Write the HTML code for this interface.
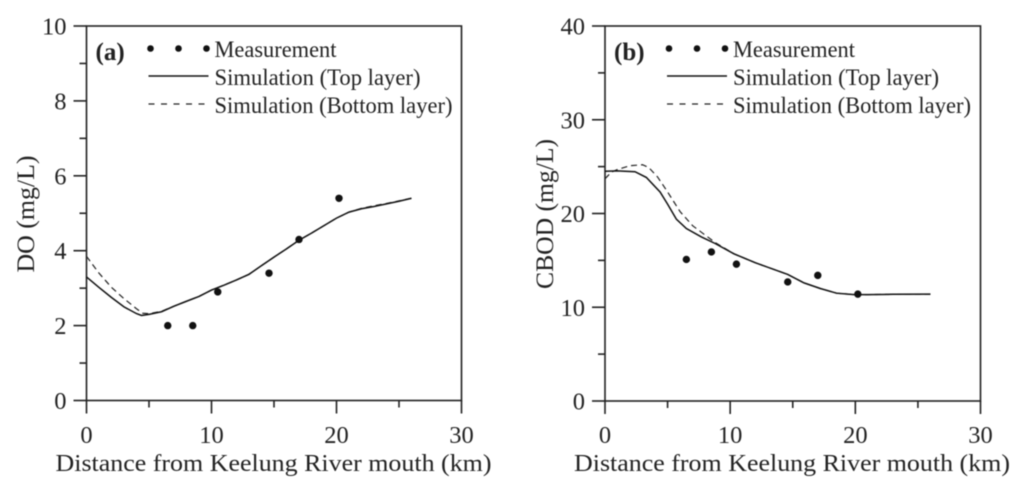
<!DOCTYPE html>
<html>
<head>
<meta charset="utf-8">
<title>DO and CBOD along Keelung River</title>
<style>
html,body{margin:0;padding:0;background:#fff;width:1024px;height:486px;overflow:hidden}
svg{display:block;filter:blur(0.45px)}
text{font-family:"Liberation Serif",serif;fill:#222}
</style>
</head>
<body>
<svg id="chart" width="1024" height="486" viewBox="0 0 1024 486" xmlns="http://www.w3.org/2000/svg"></svg>
<script>
const xTickLabels = [0, 10, 20, 30];
const xMinorTicks = [5, 15, 25];

const doTickLabels = [0, 2, 4, 6, 8, 10];
const doMinorTicks = [1, 3, 5, 7, 9];
const doTopX = [0, 1, 2, 3, 4, 4.4, 5, 6, 7, 8, 9, 10, 11, 12, 13, 14, 15, 16, 17, 18, 19, 20, 21, 22, 23, 24, 25, 26];
const doTopY = [3.3, 3.02, 2.75, 2.5, 2.32, 2.27, 2.3, 2.37, 2.52, 2.65, 2.78, 2.95, 3.08, 3.22, 3.37, 3.6, 3.83, 4.05, 4.28, 4.47, 4.67, 4.87, 5.03, 5.12, 5.18, 5.25, 5.32, 5.4];
const doBottomX = [0, 1, 2, 3, 4, 4.5, 5, 6, 7, 8, 9, 10, 11, 12, 13, 14, 15, 16, 17, 18, 19, 20, 21, 22, 23, 24, 25, 26];
const doBottomY = [3.85, 3.4, 3.02, 2.72, 2.45, 2.33, 2.32, 2.38, 2.52, 2.65, 2.78, 2.95, 3.08, 3.22, 3.37, 3.6, 3.83, 4.05, 4.28, 4.47, 4.67, 4.87, 5.03, 5.13, 5.2, 5.26, 5.33, 5.4];
const doMeasuredX = [6.5, 8.5, 10.5, 14.6, 17, 20.2];
const doMeasuredY = [2.0, 2.0, 2.9, 3.4, 4.3, 5.4];

const cbodTickLabels = [0, 10, 20, 30, 40];
const cbodMinorTicks = [5, 15, 25, 35];
const cbodTopX = [0, 1, 2.4, 3.3, 4.4, 5, 5.7, 6.5, 7.7, 8.8, 10.3, 12, 14.6, 15.9, 17.2, 18.5, 19.9, 21, 23, 26];
const cbodTopY = [24.5, 24.55, 24.46, 23.85, 22.3, 21.0, 19.4, 18.4, 17.5, 16.8, 15.7, 14.75, 13.5, 12.6, 12.0, 11.5, 11.35, 11.35, 11.38, 11.4];
const cbodBottomX = [0, 0.5, 1, 2, 3, 3.5, 4.2, 5, 6, 7, 8, 8.8, 10.3, 12, 14.6, 15.9, 17.2, 18.5, 19.9, 21, 23, 26];
const cbodBottomY = [23.7, 24.4, 24.7, 25.1, 25.2, 24.9, 23.9, 22.3, 20.2, 18.7, 17.7, 16.9, 15.7, 14.75, 13.5, 12.6, 12.0, 11.5, 11.35, 11.35, 11.38, 11.4];
const cbodMeasuredX = [6.5, 8.5, 10.5, 14.6, 17, 20.2];
const cbodMeasuredY = [15.1, 15.9, 14.6, 12.7, 13.4, 11.4];

const svg = document.getElementById('chart');
const NS = 'http://www.w3.org/2000/svg';

function make(tag, attrs, label, parent) {
  const el = document.createElementNS(NS, tag);
  for (const k in attrs) el.setAttribute(k, attrs[k]);
  
  
  (parent || svg).appendChild(el);
  return el;
}
function write(attrs, content, label, parent) {
  const t = make('text', attrs, label, parent);
  t.textContent = content;
  return t;
}
function linePath(xs, ys, sx, sy) {
  return xs.map((v, i) => (i ? 'L' : 'M') + sx(v).toFixed(2) + ' ' + sy(ys[i]).toFixed(2)).join(' ');
}

function drawPanel(p) {
  const g = make('g', {}, p.id + '-panel');
  const sx = v => p.left + (v / 30) * (p.right - p.left);
  const sy = v => p.bottom - (v / p.yMax) * (p.bottom - p.top);
  const axisStyle = {stroke: '#222', 'stroke-width': 1.6, fill: 'none'};

  make('rect', Object.assign({x: p.left, y: p.top, width: p.right - p.left, height: p.bottom - p.top}, axisStyle), p.id + '-plot-frame', g);

  p.yTicks.forEach(v => {
    make('line', Object.assign({x1: p.left - 13, x2: p.left, y1: sy(v), y2: sy(v)}, axisStyle), p.id + '-y-tick-' + v, g);
    write({x: p.left - 20, y: sy(v) + 8.5, 'text-anchor': 'end', 'font-size': 24.5}, v, p.id + '-y-tick-label-' + v, g);
  });
  p.yMinor.forEach(v => {
    make('line', Object.assign({x1: p.left - 7, x2: p.left, y1: sy(v), y2: sy(v)}, axisStyle), p.id + '-y-minor-tick-' + v, g);
  });
  xTickLabels.forEach(v => {
    make('line', Object.assign({x1: sx(v), x2: sx(v), y1: p.bottom, y2: p.bottom + 13}, axisStyle), p.id + '-x-tick-' + v, g);
    write({x: sx(v), y: 443, 'text-anchor': 'middle', 'font-size': 24.5}, v, p.id + '-x-tick-label-' + v, g);
  });
  xMinorTicks.forEach(v => {
    make('line', Object.assign({x1: sx(v), x2: sx(v), y1: p.bottom, y2: p.bottom + 7}, axisStyle), p.id + '-x-minor-tick-' + v, g);
  });

  make('path', {d: linePath(p.bottomX, p.bottomY, sx, sy), fill: 'none', stroke: '#222', 'stroke-width': 1.2, 'stroke-dasharray': '6 4'}, p.id + '-bottom-layer-line', g);
  make('path', {d: linePath(p.topX, p.topY, sx, sy), fill: 'none', stroke: '#111', 'stroke-width': 1.5}, p.id + '-top-layer-line', g);
  p.measX.forEach((v, i) => {
    make('circle', {cx: sx(v), cy: sy(p.measY[i]), r: 3.7, fill: '#111'}, p.id + '-measurement-point', g);
  });

  write({transform: 'translate(' + p.titleX + ' ' + p.titleY + ') rotate(-90)', 'text-anchor': 'middle', 'font-size': 25, textLength: p.titleLength, lengthAdjust: 'spacingAndGlyphs'}, p.yTitle, p.id + '-y-axis-title', g);
  write({x: p.left - 31, y: 471, 'font-size': 24.5, textLength: 436, lengthAdjust: 'spacingAndGlyphs'}, 'Distance from Keelung River mouth (km)', p.id + '-x-axis-title', g);

  write({x: p.left + 9, y: 60, 'font-size': 25, 'font-weight': 'bold'}, p.tag, p.id + '-panel-tag', g);

  const lg = p.left + 62;
  [0, 28, 56].forEach(dx => make('circle', {cx: lg + 2 + dx, cy: 48.5, r: 3.3, fill: '#111'}, p.id + '-legend-dot', g));
  make('line', {x1: lg, x2: lg + 60, y1: 76, y2: 76, stroke: '#111', 'stroke-width': 1.4}, p.id + '-legend-solid-line', g);
  make('line', {x1: lg, x2: lg + 58, y1: 104, y2: 104, stroke: '#222', 'stroke-width': 1.2, 'stroke-dasharray': '6 6.5'}, p.id + '-legend-dashed-line', g);
  write({x: lg + 66, y: 57, 'font-size': 23.5, textLength: 122, lengthAdjust: 'spacingAndGlyphs'}, 'Measurement', p.id + '-legend-measurement', g);
  write({x: lg + 66, y: 85, 'font-size': 23.5, textLength: 206, lengthAdjust: 'spacingAndGlyphs'}, 'Simulation (Top layer)', p.id + '-legend-top-layer', g);
  write({x: lg + 66, y: 113, 'font-size': 23.5, textLength: 238, lengthAdjust: 'spacingAndGlyphs'}, 'Simulation (Bottom layer)', p.id + '-legend-bottom-layer', g);
}

drawPanel({
  id: 'do', tag: '(a)', yTitle: 'DO (mg/L)', left: 86.5, right: 461.5, top: 26, bottom: 400.5, yMax: 10,
  yTicks: doTickLabels, yMinor: doMinorTicks, titleX: 34, titleY: 214, titleLength: 117,
  topX: doTopX, topY: doTopY, bottomX: doBottomX, bottomY: doBottomY, measX: doMeasuredX, measY: doMeasuredY
});
drawPanel({
  id: 'cbod', tag: '(b)', yTitle: 'CBOD (mg/L)', left: 605, right: 980.5, top: 26, bottom: 401, yMax: 40,
  yTicks: cbodTickLabels, yMinor: cbodMinorTicks, titleX: 553, titleY: 214, titleLength: 150,
  topX: cbodTopX, topY: cbodTopY, bottomX: cbodBottomX, bottomY: cbodBottomY, measX: cbodMeasuredX, measY: cbodMeasuredY
});
</script>
</body>
</html>
